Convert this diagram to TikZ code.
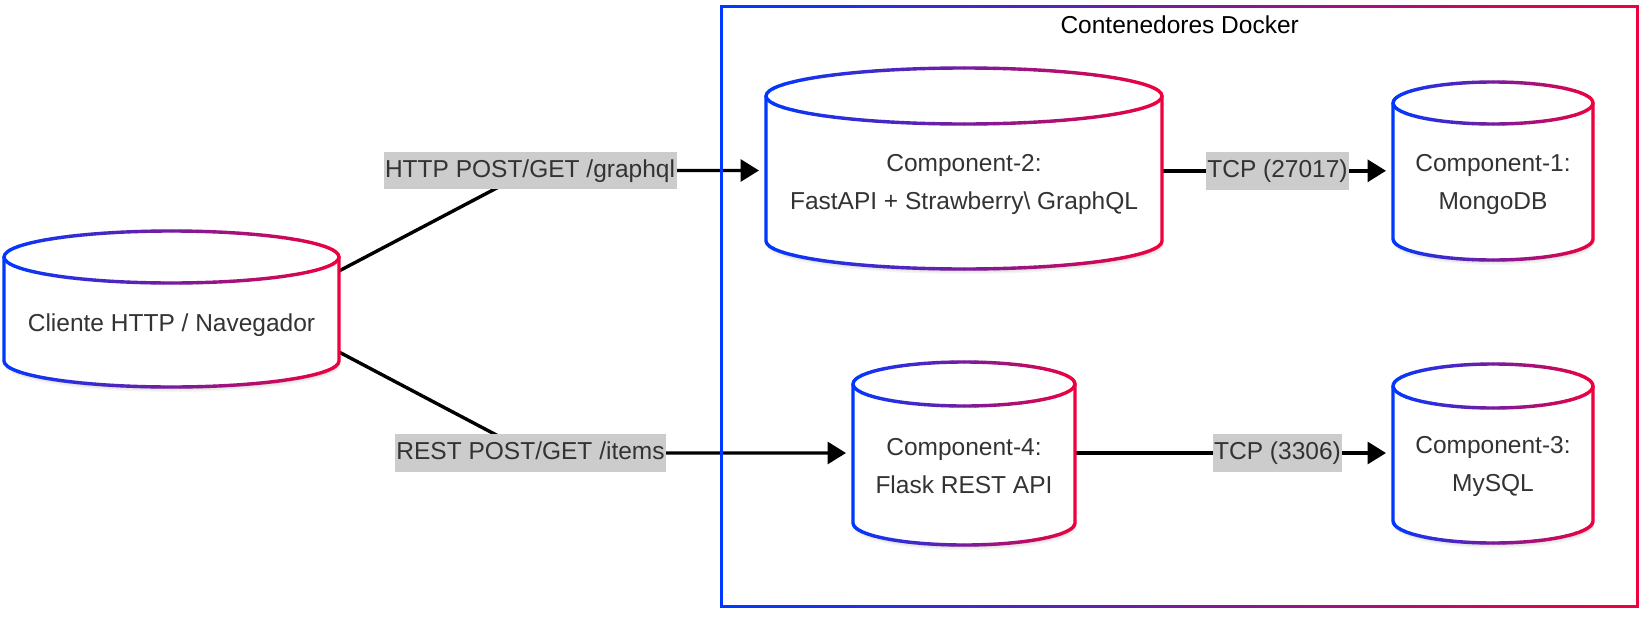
\documentclass[tikz,border=0pt]{standalone}
\usepackage{fontspec}
\setmainfont{Liberation Sans}
\usetikzlibrary{arrows.meta}
\definecolor{gblue}{RGB}{0,56,255}
\definecolor{gred}{RGB}{240,0,60}
\definecolor{txt}{RGB}{51,51,51}
\definecolor{lblbg}{RGB}{204,204,204}
\pgfdeclarelayer{paper}
\pgfdeclarelayer{bg}
\pgfsetlayers{paper,bg,main}

% gradient stroke: draw #6 clipped into #5 vertical strips, blue -> red
\newcommand{\gradclip}[6]{%
  \foreach \i in {1,...,#5}{%
    \pgfmathsetmacro{\xa}{(#1)+((#2)-(#1))/(#5)*(\i-1)}%
    \pgfmathsetmacro{\xb}{(#1)+((#2)-(#1))/(#5)*\i+0.5}%
    \pgfmathsetmacro{\ya}{#3}%
    \pgfmathsetmacro{\yz}{#4}%
    \pgfmathtruncatemacro{\pc}{100/((#5)-1)*(\i-1)}%
    \colorlet{gc}{gred!\pc!gblue}%
    \begin{scope}
      \clip (\xa,\ya) rectangle (\xb,\yz);
      #6
    \end{scope}
  }}

% gradient cylinder: name, x1, x2, top, bottom, ry, text y, text
\newcommand{\gcyl}[8]{%
  \pgfmathsetmacro{\rx}{((#3)-(#2))/2}%
  \pgfmathsetmacro{\cx}{((#3)+(#2))/2}%
  \pgfmathsetmacro{\cy}{-((#4)+(#5))/2}%
  \pgfmathsetmacro{\yt}{-(#4)-(#6)}%
  \pgfmathsetmacro{\yb}{-(#5)+(#6)}%
  \foreach \sh/\op in {5/0.04,3.5/0.05,2/0.06}{%
    \fill[black,opacity=\op] (#2+1,\yt-\sh) -- (#2+1,\yb-\sh) arc[start angle=180,end angle=360,x radius=\rx,y radius=#6] -- (#3+1,\yt-\sh) -- cycle;}
  \fill[white] (#2,\yt) -- (#2,\yb) arc[start angle=180,end angle=360,x radius=\rx,y radius=#6] -- (#3,\yt) arc[start angle=0,end angle=180,x radius=\rx,y radius=#6] -- cycle;
  \gradclip{#2-3}{#3+3}{5-#4}{-5-#5}{40}{%
    \draw[gc,line width=3.4pt] (#2,\yt) -- (#2,\yb) arc[start angle=180,end angle=360,x radius=\rx,y radius=#6] -- (#3,\yt);
    \draw[gc,line width=3.4pt] (\cx,\yt) ellipse[x radius=\rx,y radius=#6];}
  \node[cylnode,minimum width={(#3-#2)*1pt},minimum height={(#5-#4)*1pt}] (#1) at (\cx,\cy) {};
  \node[ctext] (#1t) at (\cx,-#7) {#8};
}

\tikzset{
  cylnode/.style={inner sep=0pt,outer sep=0pt,draw=none,rectangle},
  ctext/.style={font=\fontsize{24.5}{38}\selectfont,text=txt,align=center,inner sep=0pt},
  lbl/.style={fill=lblbg,text=txt,font=\fontsize{24.5}{29}\selectfont,inner xsep=1.5pt,inner ysep=0pt,
    minimum height=37.5pt,text height=18pt,text depth=5pt},
  conn/.style={draw=black,line width=3.4pt,-{Triangle[length=18.5pt,width=22pt]},shorten >=7pt},
}

\begin{document}
\begin{tikzpicture}[x=1pt,y=1pt]
\useasboundingbox (0,0) rectangle (1645,-616);
\begin{pgfonlayer}{paper}
\fill[white] (0,0) rectangle (1645,-616);
\end{pgfonlayer}

% Docker container
\gradclip{717}{1642}{0}{-614}{60}{\draw[gc,line width=3.2pt] (721.7,-6.3) rectangle (1637.7,-606.5);}
\node[cylnode,minimum width=916pt,minimum height=600.2pt] (dk) at (1179.7,-306.4) {};
\node[font=\fontsize{24.5}{29}\selectfont,text=black,inner sep=0pt] (dkt) at (1179.7,-25) {Contenedores Docker};

% cylinders
\gcyl{cl}{4}{339}{231}{387}{26}{325}{Cliente HTTP / Navegador}
\gcyl{c2}{766}{1162}{68}{269}{28}{184}{Component-2:\\FastAPI + Strawberry\textbackslash{} GraphQL}
\gcyl{c1}{1393}{1593}{82}{260}{21}{184}{Component-1:\\MongoDB}
\gcyl{c4}{853}{1075}{362}{545}{22}{466}{Component-4:\\Flask REST API}
\gcyl{c3}{1393}{1593}{364}{543}{22}{466}{Component-3:\\MySQL}

% edge labels
\node[lbl] (lg) at (530,-170.5) {HTTP POST/GET /graphql};
\node[lbl] (lr) at (530.5,-453) {REST POST/GET /items};
\node[lbl] (lt1) at (1277.5,-170.8) {TCP (27017)};
\node[lbl] (lt2) at (1277.5,-453) {TCP (3306)};

% connectors
\begin{pgfonlayer}{bg}
\draw[conn] ([yshift=38pt]cl.east) -- (lg.center) -- (lg.center -| c2.west);
\draw[conn] ([yshift=-43pt]cl.east) -- (lr.center) -- (lr.center -| c4.west);
\draw[conn] (lt1.center -| c2.east) -- (lt1.center -| c1.west);
\draw[conn] (lt2.center -| c4.east) -- (lt2.center -| c3.west);
\end{pgfonlayer}
\end{tikzpicture}
\end{document}
